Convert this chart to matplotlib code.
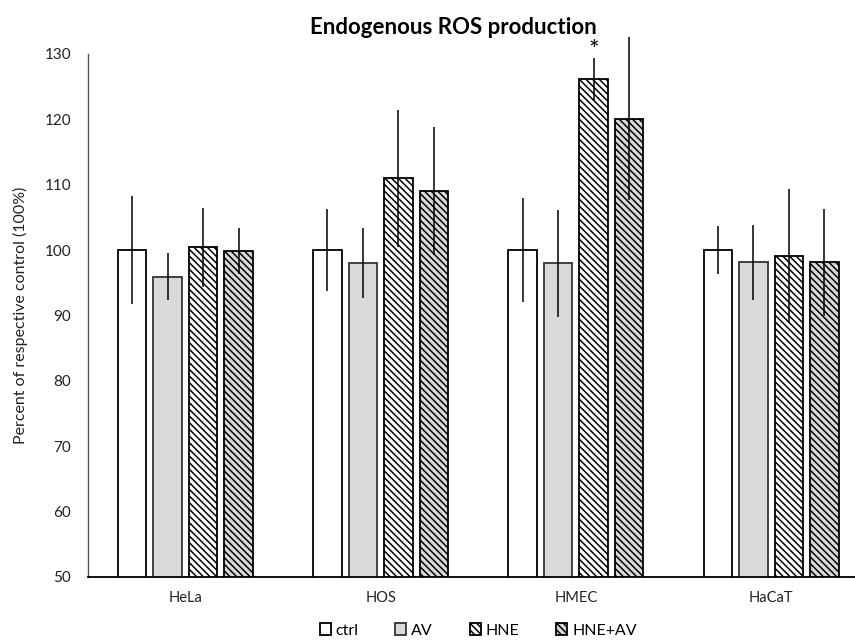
import numpy as np
import matplotlib
matplotlib.use('Agg')
import matplotlib.pyplot as plt

# Data
cell_lines = ['HeLa', 'HOS', 'HMEC', 'HaCaT']
treatments = ['ctrl', 'AV', 'HNE', 'HNE+AV']

ctrl = [100.0, 100.0, 100.0, 100.0]
av = [95.9, 98.0, 98.0, 98.1]
hne = [100.4, 111.0, 126.1, 99.1]
hne_av = [99.9, 109.1, 120.1, 98.1]

ctrl_err = [8.2, 6.3, 8.0, 3.7]
av_err = [3.6, 5.4, 8.2, 5.7]
hne_err = [6.0, 10.5, 3.3, 10.2]
hne_av_err = [3.5, 9.8, 12.5, 8.2]

significant = [(2, 'HNE')]  # HMEC HNE marked with *

plt.rcParams['font.family'] = ['Lato', 'DejaVu Sans']
plt.rcParams['hatch.linewidth'] = 1.1

fig = plt.figure(figsize=(8.55, 6.44), dpi=100)
# axes run past the right border, like the cropped original
ax = fig.add_axes([87.7 / 855, 67.3 / 644, 781 / 855, 522.7 / 644])

values = [ctrl, av, hne, hne_av]
errors = [ctrl_err, av_err, hne_err, hne_av_err]
styles = [
    dict(facecolor='white', edgecolor='black', hatch=None),
    dict(facecolor='#d9d9d9', edgecolor='#333333', hatch=None),
    dict(facecolor='white', edgecolor='black', hatch='\\' * 5),
    dict(facecolor='#d9d9d9', edgecolor='black', hatch='\\' * 5),
]

x = np.arange(len(cell_lines))
width = 0.146
step = 0.182
offsets = (np.arange(4) - 1.5) * step

handles = []
for i in range(4):
    st = styles[i]
    bars = ax.bar(x + offsets[i], values[i], width, bottom=0,
                  facecolor=st['facecolor'], edgecolor=st['edgecolor'],
                  hatch=st['hatch'], linewidth=1.3, label=treatments[i], zorder=2)
    handles.append(bars)
    ax.errorbar(x + offsets[i], values[i], yerr=errors[i], fmt='none',
                ecolor='black', elinewidth=1.1, capsize=0, zorder=3, clip_on=False)

# significance star
for ci, name in significant:
    k = treatments.index(name)
    ax.annotate('*', xy=(x[ci] + offsets[k], values[k][ci] + errors[k][ci]),
                xytext=(0, -3), textcoords='offset points',
                ha='center', va='bottom', fontsize=18)

ax.set_ylim(50, 130)
ax.set_xlim(-0.5, 3.5)
ax.set_yticks(np.arange(50, 131, 10))
ax.set_xticks(x)
ax.set_xticklabels(cell_lines, fontsize=10.5)
ax.tick_params(axis='y', length=0, pad=12, labelsize=11, labelcolor='#222222')
ax.tick_params(axis='x', length=0, pad=10, labelcolor='#222222')
ax.spines['top'].set_visible(False)
ax.spines['right'].set_visible(False)
ax.spines['left'].set_color('#555555')
ax.spines['left'].set_linewidth(1.0)
ax.spines['bottom'].set_linewidth(1.3)
ax.set_ylabel('Percent of respective control (100%)', fontsize=11.5, labelpad=12,
              color='#222222')

fig.text(453 / 855, 1 - 27 / 644, 'Endogenous ROS production', ha='center', va='center',
         fontsize=16, fontweight='bold')

leg = ax.legend(handles=handles, labels=treatments, loc='center',
                bbox_to_anchor=(0.5, -0.103), ncol=4, frameon=False,
                fontsize=11.5, handlelength=0.7, handleheight=0.7,
                handletextpad=0.3, columnspacing=2.3)

fig.savefig('out.png', dpi=100)
